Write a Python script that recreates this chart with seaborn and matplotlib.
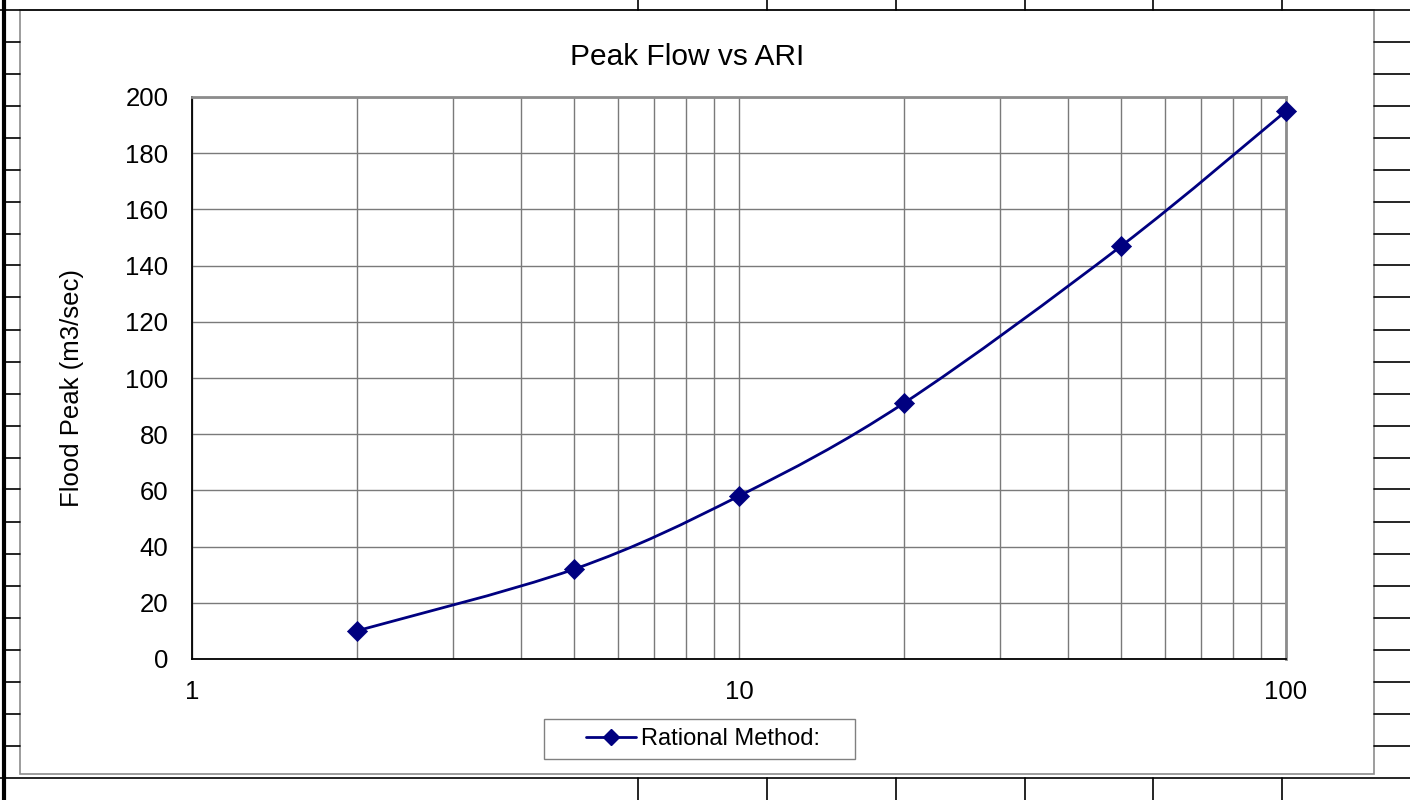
import numpy as np
import pandas as pd
import matplotlib
matplotlib.use("Agg")
import matplotlib.pyplot as plt
import seaborn as sns
from matplotlib.path import Path
from matplotlib.patches import PathPatch, Rectangle
from matplotlib.lines import Line2D
from matplotlib.ticker import LogLocator, FixedLocator, NullFormatter

# ---- data ----
ari = [2, 5, 10, 20, 50, 100]
flood_peak = [10, 32, 58, 91, 147, 195]
series_name = "Rational Method:"
title = "Peak Flow vs ARI"
ylabel = "Flood Peak (m3/sec)"
yticks = [0, 20, 40, 60, 80, 100, 120, 140, 160, 180, 200]
xticks = [1, 10, 100]
xtick_labels = ["1", "10", "100"]

df = pd.DataFrame({"ARI": ari, "Peak": flood_peak})

sns.set_theme(style="white")
plt.rcParams['font.family'] = ['Liberation Sans', 'DejaVu Sans']
plt.rcParams['text.color'] = 'black'
plt.rcParams['axes.labelcolor'] = 'black'
plt.rcParams['xtick.color'] = 'black'
plt.rcParams['ytick.color'] = 'black'

W, H = 1410, 800
fig = plt.figure(figsize=(W / 100, H / 100), dpi=100)
fig.patch.set_facecolor("white")

def fx(px):
    return px / W

def fy(py):
    return 1 - py / H

# ---- spreadsheet background lines ----
tf = fig.transFigure
def fline(x0, y0, x1, y1, lw=1.2, color="black"):
    fig.add_artist(Line2D([fx(x0), fx(x1)], [fy(y0), fy(y1)], transform=tf,
                          color=color, lw=lw, zorder=0))

fline(0, 9.5, W, 9.5)
fline(0, 777.5, W, 777.5)
fline(3.5, 0, 3.5, H, lw=3)
for k in range(1, 24):
    yy = 9.5 + 32 * k
    fline(4, yy, 20, yy)
    fline(1374, yy, W, yy)
for xx in [638, 767, 896, 1025, 1153, 1282]:
    fline(xx, 0, xx, 9.5)
    fline(xx, 777.5, xx, H)

# chart area border
fig.add_artist(Rectangle((fx(20), fy(774)), fx(1374) - fx(20), fy(10) - fy(774),
                         transform=tf, facecolor="white", edgecolor="#8c8c8c",
                         lw=1.2, zorder=-1))

# ---- plot area ----
ax = fig.add_axes([fx(192), fy(659), fx(1286) - fx(192), fy(97) - fy(659)])
ax.set_zorder(1)
ax.set_facecolor("white")

color = "#000080"
sns.scatterplot(data=df, x="ARI", y="Peak", marker="D", s=105, color=color,
                edgecolor=color, linewidth=0.5, ax=ax, zorder=4, legend=False,
                clip_on=False)

ax.set_xscale("log")
ax.set_xlim(1, 100)
ax.set_ylim(0, 200)
ax.set_xlabel("")
ax.set_ylabel("")

ax.xaxis.set_major_locator(FixedLocator(xticks))
ax.set_xticklabels(xtick_labels)
ax.xaxis.set_minor_locator(LogLocator(base=10, subs=np.arange(2, 10)))
ax.xaxis.set_minor_formatter(NullFormatter())
ax.set_yticks(yticks)
ax.set_yticklabels([str(v) for v in yticks])

ax.grid(True, which="both", axis="x", color="#7a7a7a", lw=1.0, zorder=0)
ax.grid(True, which="major", axis="y", color="#7a7a7a", lw=1.0, zorder=0)
ax.set_axisbelow(True)

for s in ["left", "bottom"]:
    ax.spines[s].set_color("black")
    ax.spines[s].set_linewidth(1.3)
for s in ["top", "right"]:
    ax.spines[s].set_color("#8c8c8c")
    ax.spines[s].set_linewidth(2.0)

ax.tick_params(axis="both", which="major", direction="out", length=5, width=1,
               color="#404040", labelsize=18.5, labelcolor="black")
ax.tick_params(axis="x", which="minor", length=0)
ax.tick_params(axis="x", which="major", pad=10)
ax.tick_params(axis="y", which="major", pad=12)

# smoothed line (Catmull-Rom Bezier in log-x / y space)
lx = np.log10(np.array(ari, dtype=float))
yv = np.array(flood_peak, dtype=float)
P = np.column_stack([lx, yv])
verts = [P[0]]
codes = [Path.MOVETO]
n = len(P)
for i in range(n - 1):
    p0 = P[i - 1] if i > 0 else P[i]
    p1 = P[i]
    p2 = P[i + 1]
    p3 = P[i + 2] if i + 2 < n else P[i + 1]
    c1 = p1 + (p2 - p0) / 6.0
    c2 = p2 - (p3 - p1) / 6.0
    verts += [c1, c2, p2]
    codes += [Path.CURVE4] * 3
verts = np.array(verts)
verts[:, 0] = 10 ** verts[:, 0]
ax.add_patch(PathPatch(Path(verts, codes), facecolor="none", edgecolor=color,
                       lw=2.0, zorder=3, transform=ax.transData, clip_on=False))

# labels
fig.text(fx(687), fy(57), title, ha="center", va="center", fontsize=21.5)
fig.text(fx(72), fy(388), ylabel, ha="center", va="center", rotation=90,
         fontsize=18.5)

# legend
fig.add_artist(Rectangle((fx(544), fy(759)), fx(855) - fx(544), fy(719) - fy(759),
                         transform=tf, facecolor="white", edgecolor="#808080",
                         lw=1.0, zorder=2))
handle = Line2D([], [], color=color, lw=2.0, marker="D", markersize=8.5,
                markerfacecolor=color, markeredgecolor=color)
leg = fig.legend([handle], [series_name], loc="center",
                 bbox_to_anchor=(fx(703), fy(739)), frameon=False, fontsize=17,
                 handlelength=2.1, handletextpad=0.2)
leg.set_zorder(3)

fig.savefig("out.png", dpi=100, facecolor="white")
